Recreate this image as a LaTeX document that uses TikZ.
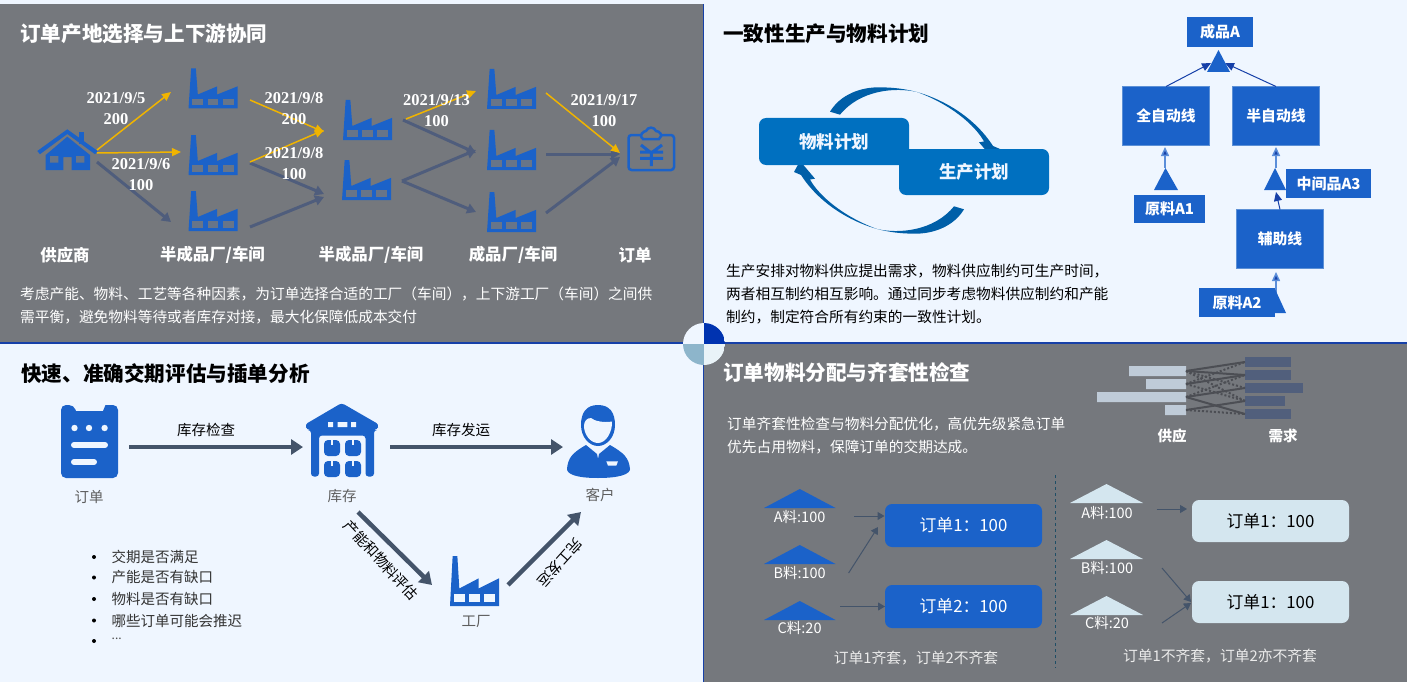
\documentclass[tikz,border=0pt]{standalone}
\usepackage{fontspec}
\setmainfont{Noto Sans CJK SC}
\newfontfamily\datefont{Liberation Serif}
\usetikzlibrary{arrows.meta}

\definecolor{paperblue}{HTML}{EFF6FF}
\definecolor{panelgray}{HTML}{75787D}
\definecolor{edgeblue}{HTML}{1640A8}
\definecolor{iconblue}{HTML}{1B62C9}
\definecolor{planblue}{HTML}{0070C0}
\definecolor{swooshblue}{HTML}{005FA8}
\definecolor{flowgray}{HTML}{4F5D7C}
\definecolor{flowgold}{HTML}{F0B400}
\definecolor{slate}{HTML}{44546A}
\definecolor{paleblue}{HTML}{D4E6EF}
\definecolor{supplybar}{HTML}{BFCBD8}
\definecolor{demandbar}{HTML}{515F7C}
\definecolor{linkgray}{HTML}{4C4E54}
\definecolor{labelgray}{HTML}{5E5E5E}
\definecolor{discblue}{HTML}{0033B0}
\definecolor{discsteel}{HTML}{8DB5CB}
\definecolor{discpale}{HTML}{E9F3F8}
\definecolor{divideline}{HTML}{1F4E66}

\tikzset{
  paneltitle/.style={font=\bfseries\fontsize{20.6}{24}\selectfont,inner sep=0pt,anchor=west},
  bodytext/.style={font=\fontsize{14.7}{23}\selectfont,inner sep=0pt,anchor=north west,align=left},
  datelabel/.style={font=\datefont\bfseries\fontsize{16.5}{18}\selectfont,white,inner sep=0pt},
  stagelabel/.style={font=\bfseries\fontsize{16.4}{18}\selectfont,white,inner sep=0pt},
  iconlabel/.style={font=\fontsize{14.5}{16}\selectfont,labelgray,inner sep=0pt},
  edgelabel/.style={font=\fontsize{14.5}{16}\selectfont,black,inner sep=0pt},
  goldflow/.style={flowgold,line width=1.5pt,-{Triangle[length=9pt,width=8pt]}},
  grayflow/.style={flowgray,line width=3pt,-{Triangle[length=9pt,width=10pt]}},
  planbox/.style={fill=planblue,rounded corners=7pt,minimum width=150pt,text=paperblue,
    font=\bfseries\fontsize{17.5}{20}\selectfont,inner sep=0pt,outer sep=0pt},
  linebox/.style={fill=iconblue,draw=iconblue!65!paleblue,line width=1pt,minimum width=87pt,minimum height=59pt,
    text=white,font=\bfseries\fontsize{14.8}{17}\selectfont,inner sep=0pt,outer sep=0pt},
  tagbox/.style={fill=iconblue,text=white,font=\bfseries\fontsize{15}{17}\selectfont,inner sep=0pt,outer sep=0pt},
  treearrow/.style={edgeblue,line width=1pt,-{Triangle[length=9pt,width=8pt]}},
  riserarrow/.style={iconblue!70!paperblue,line width=1.5pt,-{Triangle[length=9pt,width=8pt,fill=edgeblue]}},
  bigflow/.style={slate,line width=4.5pt,-{Triangle[length=12pt,width=15pt]}},
  thinflow/.style={slate,line width=1pt,-{Triangle[length=7pt,width=8pt]}},
  orderbox/.style={rounded corners=7pt,minimum width=157pt,minimum height=43pt,
    font=\fontsize{16.8}{18}\selectfont,inner sep=0pt,outer sep=0pt},
  stocklabel/.style={font=\fontsize{14.5}{16}\selectfont,white,inner sep=0pt},
  captionlabel/.style={font=\fontsize{14.8}{16}\selectfont,white!92!black,inner sep=0pt},
  solidlink/.style={linkgray,line width=2pt},
  dottedlink/.style={linkgray,line width=2pt,dash pattern=on 2pt off 2pt},
}

% factory icon: left, top, width, height, window colour
\newcommand{\factoryicon}[5]{
  \begin{scope}[shift={(#1,#2)},x=#3pt,y=-#4pt]
    \fill[iconblue] (0,1) -- (.054,0) -- (.15,0) -- (.19,.65) -- (.585,.447) -- (.585,.65)
      -- (1,.447) -- (1,1) -- cycle;
    \foreach \wx in {.08,.39,.70}
      \fill[#5] (\wx,.76) rectangle +(.22,.16);
  \end{scope}
}

% tapered swoosh with its head, used twice around the two plans
\newcommand{\swooshpath}{
  \fill[swooshblue] (830,111.7) .. controls (840,95) and (860,87) .. (880,87.3)
    .. controls (895,87.5) and (905,89) .. (917,92)
    .. controls (945,100) and (975,118) .. (993,146) -- (1000,149) -- (994,160)
    -- (979,142.3) -- (984,141.5) .. controls (975,125) and (950,104) .. (917,92)
    .. controls (895,87) and (860,90) .. (840,114.7) -- cycle;
}

\begin{document}
\begin{tikzpicture}[x=1pt,y=-1pt]
\useasboundingbox (0,0) rectangle (1407,682);

% Panels
\fill[paperblue] (0,0) rectangle (1407,682);
\fill[panelgray] (0,4) rectangle (703,342);
\fill[panelgray] (704,343) rectangle (1407,682);
\draw[edgeblue,line width=1pt] (703.5,4) -- (703.5,682);
\draw[edgeblue,line width=1.2pt] (0,343) -- (1407,343);

% Quartered disc in the middle
\begin{scope}
  \clip (704,344) circle (21);
  \fill[paperblue] (683,323) rectangle (704,344);
  \fill[discblue] (704,323) rectangle (725,344);
  \fill[discsteel] (683,344) rectangle (704,365);
  \fill[discpale] (704,344) rectangle (725,365);
\end{scope}

% ---- Order site selection ----
\node[paneltitle,white] (siteTitle) at (20,34) {订单产地选择与上下游协同};

% Supplier
\fill[iconblue] (79,132) rectangle (84.3,144);
\fill[iconblue] (37.3,151) -- (67.3,129.3) -- (97.7,151) -- (95,154.2) -- (67.3,134) -- (40,154.2) -- cycle;
\fill[iconblue] (45.7,155) -- (67.3,136.7) -- (90,155) -- (90,170) -- (71.7,170) -- (71.7,157) -- (63.3,157)
  -- (63.3,170) -- (45.7,170) -- cycle;
\fill[panelgray!85!iconblue] (50,156) rectangle (58.3,162.7) (76,156) rectangle (84.3,162.7);

% Plants
\foreach \fx/\fy in {188.5/68.5,188.5/135,188.5/191,343/100,342/160,487/69,487/130,487/192}{
  \factoryicon{\fx}{\fy}{49}{40}{panelgray!85!iconblue}
}

% Order sheet
\draw[iconblue,line width=2.5pt,rounded corners=3pt] (628.5,135) rectangle (674,170);
\filldraw[draw=iconblue,fill=panelgray,line width=2.5pt] (643,139) .. controls (638,135) and (644,131) .. (646,131)
  .. controls (648,126.5) and (654,126.5) .. (656,131) .. controls (659,131) and (664,135) .. (659,139) -- cycle;
\draw[iconblue,line width=3pt] (641,145) -- (651.3,153) -- (662,145) (640,152) -- (663,152)
  (640,158.3) -- (663,158.3) (651.3,153) -- (651.3,166);

% Flow end points
\foreach \n/\px/\py in {
  ha/97/150,hb/97/153,hc/97/162,pa/171/92,pb/181/152,pc/171/222,
  qa/250/100,qb/250/162,qc/250/163,qd/250/227,ra/324/132,rb/324/130,rc/324/194,rd/324/197,
  sa/406/119,sb/403/120,sc/402/181,ta/476/91,tb/476/153,tc/476/150,td/476/212,
  ua/546/93,ub/546/154,uc/546/213,va/620/153,vb/620/154,vc/620/157}
  \coordinate (\n) at (\px,\py);

\draw[grayflow] (hc) -- (pc);
\draw[grayflow] (qc) -- (rc);
\draw[grayflow] (qd) -- (rd);
\draw[grayflow] (sb) -- (tb);
\draw[grayflow] (sc) -- (tc);
\draw[grayflow] (sc) -- (td);
\draw[grayflow] (ub) -- (vb);
\draw[grayflow] (uc) -- (vc);
\draw[goldflow] (ha) -- (pa);
\draw[goldflow] (hb) -- (pb);
\draw[goldflow] (qa) -- (ra);
\draw[goldflow] (qb) -- (rb);
\draw[goldflow] (sa) -- (ta);
\draw[goldflow] (ua) -- (va);

\node[datelabel] (dateA) at (116,98) {2021/9/5};
\node[datelabel] (qtyA) at (116,119) {200};
\node[datelabel] (dateB) at (141,164) {2021/9/6};
\node[datelabel] (qtyB) at (141,185) {100};
\node[datelabel] (dateC) at (294,98) {2021/9/8};
\node[datelabel] (qtyC) at (294,119) {200};
\node[datelabel] (dateD) at (294,153) {2021/9/8};
\node[datelabel] (qtyD) at (294,174) {100};
\node[datelabel] (dateE) at (436.5,100) {2021/9/13};
\node[datelabel] (qtyE) at (436.5,121) {100};
\node[datelabel] (dateF) at (604,100) {2021/9/17};
\node[datelabel] (qtyF) at (604,121) {100};

\node[stagelabel] (stageA) at (65,255) {供应商};
\node[stagelabel] (stageB) at (212.5,255) {半成品厂/车间};
\node[stagelabel] (stageC) at (371,255) {半成品厂/车间};
\node[stagelabel] (stageD) at (513,255) {成品厂/车间};
\node[stagelabel] (stageE) at (635,255) {订单};

\node[bodytext,white] (siteText) at (20,287) {考虑产能、物料、工艺等各种因素，为订单选择合适的工厂（车间），上下游工厂（车间）之间供\\需平衡，避免物料等待或者库存对接，最大化保障低成本交付};

% ---- Consistent planning ----
\node[paneltitle,black] (planTitle) at (723,34) {一致性生产与物料计划};

\swooshpath
\begin{scope}[rotate around={180:(897,160.5)}]
  \swooshpath
\end{scope}
\node[planbox,minimum height=47pt] (matPlan) at (834,141.5) {物料计划};
\node[planbox,minimum height=46pt] (prodPlan) at (974,172) {生产计划};

\node[tagbox,minimum width=66pt,minimum height=30pt] (goodA) at (1220,32) {成品A};
\node[linebox] (autoLine) at (1166,116) {全自动线};
\node[linebox] (semiLine) at (1276,116) {半自动线};
\node[linebox] (auxLine) at (1280,239) {辅助线};

\coordinate (joinL) at (1211,63);
\coordinate (joinR) at (1225,63);
\coordinate (triA) at (1165,168);
\coordinate (triB) at (1276,168);
\coordinate (triC) at (1276,192);
\coordinate (triD) at (1276,293);
\coordinate (autoIn) at (1165,147);
\coordinate (semiIn) at (1276,147);
\coordinate (auxIn) at (1276,272);

\draw[treearrow] (autoLine.north) -- (joinL);
\draw[treearrow] (semiLine.north) -- (joinR);
\fill[iconblue] (1207,72) -- (1218.5,50) -- (1230,72) -- cycle;
\draw[riserarrow] (triA) -- (autoIn);
\draw[riserarrow] (triB) -- (semiIn);
\draw[treearrow] (auxLine.north) -- (triC);
\draw[riserarrow] (triD) -- (auxIn);
\fill[iconblue] (1154,190) -- (1165.5,168) -- (1178,190) -- cycle;
\fill[iconblue] (1264,190) -- (1275,168) -- (1286,190) -- cycle;
\fill[iconblue] (1264,313) -- (1275,289) -- (1286,313) -- cycle;

\node[tagbox,minimum width=71pt,minimum height=28pt] (rawA) at (1169.5,209) {原料A1};
\node[tagbox,minimum width=85pt,minimum height=29pt] (midA) at (1328.5,183.5) {中间品A3};
\node[tagbox,minimum width=76pt,minimum height=29pt] (rawB) at (1237,302.5) {原料A2};

\node[bodytext,black] (planText) at (726,264) {生产安排对物料供应提出需求，物料供应制约可生产时间，\\两者相互制约相互影响。通过同步考虑物料供应制约和产能\\制约，制定符合所有约束的一致性计划。};

% ---- Delivery date evaluation ----
\node[paneltitle,black] (dateTitle) at (21,374) {快速、准确交期评估与插单分析};

% Order sheet
\fill[iconblue,rounded corners=5pt] (61,405) -- (74,405) [sharp corners] -- (76,411) -- (103,411) -- (105.5,405)
  [rounded corners=5pt] -- (118,405) -- (118,478) -- (61,478) -- cycle;
\foreach \dx in {74.5,89,104.6}
  \fill[paperblue] (\dx,428) circle (3.2);
\draw[paperblue,line width=6pt,line cap=round] (74,445) -- (105,445) (74,462) -- (94,462);

% Warehouse
\fill[iconblue,rounded corners=3pt] (341.7,403) -- (379,424.5) -- (377,430) -- (374,430) -- (374,476.5) -- (365.5,476.5)
  -- (365.5,435.5) -- (319,435.5) -- (319,476.5) -- (311,476.5) -- (311,430) -- (307,430) -- (305,424.5) -- cycle;
\fill[paperblue] (328,422) rectangle (333,427) (337.7,422) rectangle (347.3,427) (351,422) rectangle (356,427);
\foreach \bx/\by in {324/440,345/440,324/461,345/461}{
  \fill[iconblue,rounded corners=4pt] (\bx,\by) rectangle +(16,16);
  \fill[paperblue] (\bx+7,\by) rectangle +(2,5);
}

% Customer
\fill[iconblue] (598,405) .. controls (610,405) and (615,413) .. (615,425)
  .. controls (615,437) and (607,446) .. (598,446) .. controls (589,446) and (581,437) .. (581,425)
  .. controls (581,413) and (586,405) .. (598,405) -- cycle;
\fill[paperblue] (584,426) .. controls (584,421) and (587,418) .. (591,418) .. controls (594,421) and (604,423) .. (612,421.5)
  .. controls (612.5,432) and (606,443) .. (598,443) .. controls (590,443) and (584,434) .. (584,426) -- cycle;
\fill[iconblue] (567,469) .. controls (568,458) and (572,453) .. (586,445) -- (597,454) -- (598,459) -- (599,454)
  -- (610,445) .. controls (624,453) and (629,458) .. (630,469) .. controls (630,474) and (620,478) .. (598,478)
  .. controls (576,478) and (567,474) .. (567,469) -- cycle;
\fill[paperblue] (606.3,461.3) -- (618,461.3) -- (616.3,465.7) -- (608,465.7) -- cycle;

\factoryicon{450}{556}{49}{50}{paperblue}

\coordinate (orderOut) at (129,447);
\coordinate (storeIn) at (303,447);
\coordinate (storeOut) at (390,447);
\coordinate (buyerIn) at (563,447);
\coordinate (storeDown) at (358,512);
\coordinate (plantIn) at (432,585);
\coordinate (plantOut) at (508,585);
\coordinate (buyerDown) at (581,512);

\draw[bigflow] (orderOut) -- (storeIn);
\draw[bigflow] (storeOut) -- (buyerIn);
\draw[bigflow] (storeDown) -- (plantIn);
\draw[bigflow] (plantOut) -- (buyerDown);

\node[edgelabel] (checkLabel) at (206,430) {库存检查};
\node[edgelabel] (shipLabel) at (461,430) {库存发运};
\node[edgelabel,rotate=-47] (evalLabel) at (381,560) {产能和物料评估};
\node[edgelabel,rotate=228] (doneLabel) at (560,563) {完工发运};

\node[iconlabel] (orderLabel) at (89,497) {订单};
\node[iconlabel] (storeLabel) at (342,496) {库存};
\node[iconlabel] (buyerLabel) at (600,495) {客户};
\node[iconlabel] (plantLabel) at (476,621) {工厂};

\foreach \i/\iy/\itext in {1/557/交期是否满足,2/577.5/产能是否有缺口,3/599/物料是否有缺口,4/620.5/哪些订单可能会推迟}{
  \fill[black] (94,\iy) circle (2);
  \node[edgelabel,text=black!80,anchor=west] (item\i) at (111.5,\iy) {\itext};
}
\fill[black] (94,641) circle (2);
\node[edgelabel,font=\fontsize{12}{14}\selectfont,text=black!70,anchor=west] (item5) at (111.5,639) {...};

% ---- Material allocation ----
\node[paneltitle,white] (kitTitle) at (723,373) {订单物料分配与齐套性检查};
\node[bodytext,white] (kitText) at (727,417) {订单齐套性检查与物料分配优化，高优先级紧急订单\\优先占用物料，保障订单的交期达成。};

% Supply and demand bars
\fill[supplybar] (1129,366) rectangle (1186,376) (1146,379) rectangle (1186,389)
  (1097,392) rectangle (1186,402) (1165,405) rectangle (1186,415);
\foreach \dn/\dr/\dy in {1/1291/357,2/1291/370,3/1303/383,4/1285/396,5/1291/409}{
  \fill[demandbar] (1245,\dy) rectangle (\dr,\dy+10);
  \coordinate (dem\dn) at (1245,\dy+5);
}
\foreach \sn/\sy in {1/371,2/384,3/397,4/410}
  \coordinate (sup\sn) at (1186,\sy);
\foreach \a/\b in {1/3,1/4,2/1,2/4,3/2,4/5}
  \draw[dottedlink] (sup\a) -- (dem\b);
\foreach \a/\b in {1/1,1/2,2/2,3/3,3/5,4/4}
  \draw[solidlink] (sup\a) -- (dem\b);
\node[font=\bfseries\fontsize{14.5}{16}\selectfont,white,inner sep=0pt] (supplyLabel) at (1172,436) {供应};
\node[font=\bfseries\fontsize{14.5}{16}\selectfont,white,inner sep=0pt] (demandLabel) at (1283,436) {需求};

% Left case
\foreach \ty in {489,545,601}
  \fill[iconblue] (764,\ty+19) -- (799.8,\ty) -- (835.6,\ty+19) -- cycle;
\node[stocklabel] (leftA) at (799.6,517) {A料:100};
\node[stocklabel] (leftB) at (799.6,573) {B料:100};
\node[stocklabel] (leftC) at (799.6,628) {C料:20};
\node[orderbox,fill=iconblue,text=white] (leftOrderA) at (963.5,525.5) {订单1：100};
\node[orderbox,fill=iconblue,text=white] (leftOrderB) at (963.5,606.5) {订单2：100};
\coordinate (leftFromA) at (854,516);
\coordinate (leftToA) at (884.5,516);
\coordinate (leftFromB) at (848.6,573);
\coordinate (leftToB) at (878,527);
\coordinate (leftFromC) at (840,606.5);
\draw[thinflow] (leftFromA) -- (leftToA);
\draw[thinflow] (leftFromB) -- (leftToB);
\draw[thinflow] (leftFromC) -- (leftOrderB.west);
\node[captionlabel] (leftCaption) at (916,658) {订单1齐套，订单2不齐套};

% Divider
\coordinate (divTop) at (1055,475);
\coordinate (divEnd) at (1055,668);
\draw[divideline,dashed,line width=1pt] (divTop) -- (divEnd);

% Right case
\foreach \ty in {484,540,596}
  \fill[paleblue] (1070,\ty+19) -- (1106.5,\ty) -- (1143,\ty+19) -- cycle;
\node[stocklabel] (rightA) at (1107,513) {A料:100};
\node[stocklabel] (rightB) at (1107,568) {B料:100};
\node[stocklabel] (rightC) at (1107,623) {C料:20};
\node[orderbox,fill=paleblue,text=black,minimum height=42pt] (rightOrderA) at (1270.5,521) {\raisebox{1pt}{订单1：100}};
\node[orderbox,fill=paleblue,text=black,minimum height=42pt] (rightOrderB) at (1270.5,602) {\raisebox{1pt}{订单1：100}};
\coordinate (rightFromA) at (1156.6,509);
\coordinate (rightToA) at (1187,509);
\coordinate (rightFromB) at (1162,568);
\coordinate (rightToB) at (1191,602);
\coordinate (rightFromC) at (1162,623);
\coordinate (rightToC) at (1191,603);
\draw[thinflow] (rightFromA) -- (rightToA);
\draw[thinflow] (rightFromB) -- (rightToB);
\draw[thinflow] (rightFromC) -- (rightToC);
\node[captionlabel] (rightCaption) at (1220,656) {订单1不齐套，订单2亦不齐套};

\end{tikzpicture}
\end{document}
